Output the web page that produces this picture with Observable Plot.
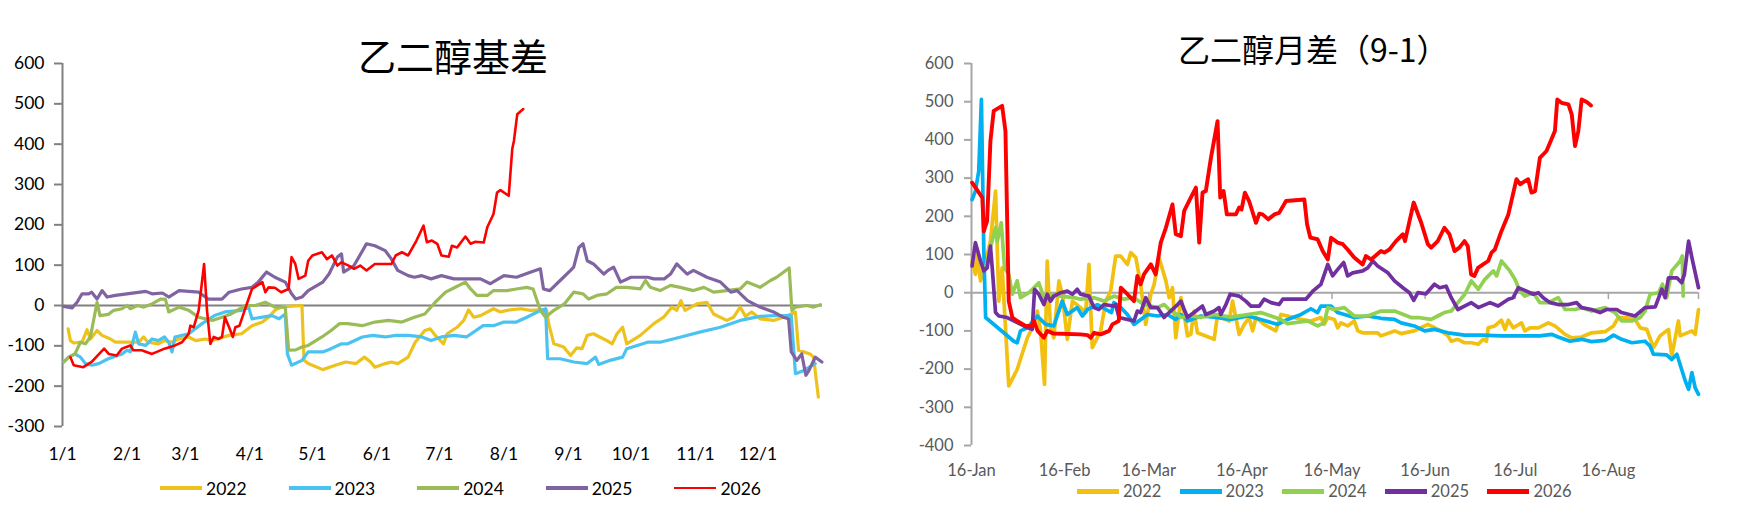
<!DOCTYPE html>
<html><head><meta charset="utf-8">
<script src="https://cdn.jsdelivr.net/npm/d3@7"></script>
<script src="https://cdn.jsdelivr.net/npm/@observablehq/plot@0.6"></script>
<style>
body{margin:0;background:#fff;}
#wrap{position:relative;width:1757px;height:520px;overflow:hidden;background:#fff;font-family:Lato,sans-serif;}
#wrap svg{position:absolute;top:0;}
.title{position:absolute;font-family:"Noto Sans CJK SC",sans-serif;white-space:nowrap;color:#000;line-height:1;}
.leg{position:absolute;display:flex;align-items:center;white-space:nowrap;font-family:Lato,sans-serif;}
.leg span.sw{display:inline-block;margin-right:4px;}
</style></head>
<body><div id="wrap">
<div class="title" id="t1" style="left:358px;top:36px;font-size:38px;">乙二醇基差</div>
<div class="title" id="t2" style="left:1178px;top:32px;font-size:32px;">乙二醇月差（9-1）</div>
</div>
<script>
// ---------- shared ----------
const years = ["2022", "2023", "2024", "2025", "2026"];

// ---------- left chart: 乙二醇基差 (x = day of year, y = basis) ----------
const leftMonthTicks = [0, 31, 59, 90, 120, 151, 181, 212, 243, 273, 304, 334];
const leftMonthLabels = ["1/1", "2/1", "3/1", "4/1", "5/1", "6/1", "7/1", "8/1", "9/1", "10/1", "11/1", "12/1"];
const leftYTicks = [-300, -200, -100, 0, 100, 200, 300, 400, 500, 600];

const basis2022 = [[2.7,-58],[3.8,-87],[5.4,-93],[9.4,-91],[11.8,-60],[13.4,-83],[16.6,-62],[19,-74],[23,-83],[25.4,-91],[36.6,-91],[39,-78],[41,-91],[46,-95],[49,-87],[52.6,-91],[55.8,-83],[60.6,-78],[64,-87],[68.6,-83],[71.8,-87],[80,-74],[86,-70],[91,-50],[96,-41],[99,-29],[102,-12],[105,-4],[108.6,-2],[115,0],[116,-136],[118,-144],[125,-159],[131,-148],[136,-140],[141,-144],[145,-128],[148,-140],[150,-153],[155,-144],[158,-140],[161,-144],[166,-128],[169.4,-91],[174,-62],[176.6,-58],[179,-74],[183,-95],[184.7,-70],[189.5,-54],[192.7,-37],[195,-11],[197.5,-29],[200.7,-25],[207,-8],[210.3,-16],[213.5,-12],[220,-8],[224.7,-12],[229.5,-11],[232.5,-11],[233.5,-45],[236,-95],[240.7,-103],[244,-124],[247,-105],[249.5,-107],[252,-74],[255,-70],[258,-78],[261.5,-87],[264,-95],[266.3,-70],[269,-54],[271,-95],[277.5,-74],[284,-45],[288.7,-29],[292.7,-4],[295,-12],[297,12],[299,-12],[304.7,4],[309.5,8],[312.7,-21],[319,-37],[322.3,-29],[325.5,-4],[328,-27],[331,-16],[335,-33],[341.5,-37],[346.3,-29],[352,-16],[353.5,-111],[356,-115],[359,-120],[360.7,-128],[363,-227]];
const basis2023 = [[0.6,-140],[3,-128],[6,-120],[8.6,-128],[11,-144],[14,-148],[17.4,-144],[22,-132],[28.6,-120],[31,-111],[32.6,-115],[35,-66],[36.6,-95],[40,-99],[43,-83],[46,-87],[49,-78],[51,-91],[52.6,-115],[54,-78],[60.6,-70],[67,-45],[73,-25],[78,-16],[86,-12],[89.4,-4],[91,-33],[96,-29],[100.6,-25],[104,-33],[107,-21],[108,-120],[110,-148],[115,-136],[118,-115],[125,-115],[129,-107],[134,-95],[137,-95],[144,-78],[149,-74],[155,-78],[160,-74],[166,-74],[172.6,-78],[177,-87],[182,-78],[188,-74],[194,-78],[202,-50],[207,-50],[212,-41],[218,-41],[223,-29],[228,-16],[232,-8],[233,-132],[239,-132],[245.5,-140],[252,-144],[256,-128],[257.5,-146],[263,-136],[269,-128],[271,-107],[281,-91],[287,-91],[297,-78],[306,-66],[316,-54],[325.5,-37],[335,-27],[341.5,-25],[350,-25],[352,-169],[356,-161],[361.5,-144]];
const basis2024 = [[0.6,-140],[3,-128],[6,-120],[8.6,-91],[11,-95],[13.4,-78],[16.6,8],[18,-25],[22,-22],[24.6,-12],[28.6,-8],[31,0],[32.6,-8],[36,0],[39,-4],[43,4],[47,16],[49.4,16],[51,-16],[56,-4],[60.6,-12],[65.4,-29],[72,-37],[76.6,-29],[81,-21],[88,0],[92.6,0],[97.4,8],[102,-4],[107,-4],[108.6,-111],[112,-110],[115,-103],[118,-99],[124.6,-78],[129,-62],[133,-45],[137,-45],[144,-50],[150,-41],[156.6,-37],[163,-41],[169,-29],[174,-21],[179,8],[184,33],[187,41],[193.5,58],[196,41],[199,25],[204,25],[207,37],[213.5,37],[218,41],[223,45],[226,41],[229.5,-12],[232,-29],[236,-12],[241,4],[245.5,33],[250,29],[252.7,16],[256.7,25],[261.5,29],[266,45],[271,45],[277.5,41],[280,62],[282.3,45],[287,37],[292,50],[296.7,45],[303,37],[308,45],[312.7,33],[319,37],[325.5,41],[328.7,58],[335,45],[340,62],[343,70],[349,93],[350.3,-12],[352,-4],[357.5,0],[360.7,-4],[364,2]];
const basis2025 = [[0.6,-2],[4.6,-6],[7,8],[9.4,29],[12.6,29],[14,33],[16.6,16],[19,37],[21.4,21],[25.4,25],[40,35],[43,29],[48,31],[51,21],[56,37],[60.6,35],[65.4,33],[70,16],[76.6,16],[80,33],[86,41],[91,45],[94,58],[98,83],[102,70],[107,58],[110,29],[112,16],[115,21],[118,37],[125,58],[128,78],[132,120],[134,128],[135,83],[140,99],[146,153],[150,148],[155,136],[158,115],[161,87],[166,74],[169,70],[172.6,74],[177,66],[182,74],[188,66],[194,66],[200.7,66],[205.5,54],[212,74],[218,70],[225,83],[229.5,91],[231,41],[234,37],[239,62],[244,87],[245.5,95],[248,144],[250,153],[252,111],[255,103],[260,78],[262,87],[264.7,95],[268,58],[273,70],[281,70],[284,66],[289,66],[292,78],[295,103],[300,78],[303,87],[309.5,70],[316,58],[321,33],[324,37],[329,12],[335,-4],[341.5,-16],[346,-29],[348.7,-33],[350,-115],[352.7,-136],[355,-120],[357,-173],[358.5,-161],[361.5,-128],[364.7,-140]];
const basis2026 = [[3.8,-128],[5.4,-148],[10,-153],[14,-140],[20,-107],[22.2,-120],[26,-124],[28.6,-107],[32.6,-99],[34,-111],[38,-111],[43,-120],[49,-107],[54,-99],[57.4,-91],[60.6,-70],[61.4,-50],[63,-54],[65.4,-12],[68,103],[69.4,-12],[71,-95],[72.6,-78],[75,-83],[76.6,-78],[78,-29],[80,-54],[81.8,-78],[83,-54],[85,-50],[88,-4],[91,41],[96,58],[97.4,33],[99,45],[102,44],[105,33],[108.6,41],[110,120],[111.8,103],[113.4,66],[116.6,74],[118,111],[120,124],[124.6,132],[127,115],[129.4,124],[132,99],[134,107],[137.4,99],[140,91],[143,99],[146,87],[150,103],[158,103],[160,124],[163,132],[166,124],[170,161],[173.4,198],[175,157],[177.4,161],[180,153],[182,124],[185.5,121],[187,148],[189.5,144],[193.5,171],[196,153],[198.3,158],[202.3,156],[204,194],[207,227],[208.7,280],[210.3,286],[214.3,272],[216,388],[216.8,408],[218.4,474],[221.3,487]];

// ---------- right chart: 乙二醇月差（9-1） (x = days since 16-Jan) ----------
const rightTicks = [0, 31, 59, 90, 120, 151, 181, 212];
const rightLabels = ["16-Jan", "16-Feb", "16-Mar", "16-Apr", "16-May", "16-Jun", "16-Jul", "16-Aug"];
const rightYTicks = [-400, -300, -200, -100, 0, 100, 200, 300, 400, 500, 600];

const spread2022 = [[0.2,83],[1.3,48],[1.9,100],[3,31],[4.1,65],[6.3,135],[8,266],[9.1,-22],[10.2,65],[12.4,-244],[15.2,-201],[18.6,-118],[20.8,-83],[21.9,-48],[23,-100],[24.3,-240],[25.2,83],[26.3,-92],[27.4,-118],[29.1,31],[30.2,-4],[31.9,-122],[33.6,-22],[36.3,-39],[38,-52],[39.1,74],[40.2,-144],[43,-100],[44.7,-22],[46.3,4],[48,96],[49.7,96],[51.9,74],[53,105],[54.7,92],[56.3,22],[58,-83],[59.7,-4],[60.8,22],[62.4,92],[64.7,31],[65.8,-13],[66.9,13],[68,-118],[69.7,-13],[70.8,-57],[71.9,-113],[73,-109],[74.1,-48],[75.2,-105],[80.8,-122],[81.9,-57],[83,-65],[85.8,-74],[86.9,-22],[89.1,-109],[90.8,-83],[92.4,-65],[93.6,-100],[94.7,-65],[97.4,-83],[101.3,-100],[103,-57],[107.4,-65],[109.7,-70],[113,-74],[116.3,-65],[117.4,-83],[118.6,-65],[120.8,-70],[121.9,-92],[123,-79],[125.2,-87],[127.4,-74],[128.6,-100],[130.2,-105],[135.2,-105],[136.3,-113],[140.8,-100],[143,-107],[147.4,-100],[151.9,-83],[156.3,-100],[158.6,-113],[159.7,-127],[161.9,-122],[164.1,-131],[166.4,-131],[168.7,-135],[170.3,-122],[171.4,-127],[172,-92],[174.2,-87],[176.4,-72],[177.6,-96],[178.7,-72],[180.3,-92],[183.1,-79],[184.2,-100],[185.9,-92],[188.7,-92],[192,-79],[194.2,-87],[197.6,-109],[199.8,-118],[203.1,-116],[206.4,-105],[210.9,-102],[213.7,-87],[215.3,-65],[217.6,-65],[220.9,-70],[222.6,-92],[224.8,-96],[227,-144],[229.2,-113],[232,-96],[233.1,-166],[235.3,-74],[235.9,-113],[239.8,-100],[240.9,-109],[242,-44]];
const spread2023 = [[0.2,244],[1.3,266],[2.4,318],[3.3,506],[4.1,109],[4.7,-65],[14.1,-127],[15.2,-131],[16.3,-100],[18.6,-92],[21.9,-61],[24.7,-83],[27.4,-87],[30.2,-22],[31.9,-57],[35.2,-39],[36.9,-61],[38.6,-44],[41.9,-31],[46.6,-52],[47.4,-26],[49.7,-39],[51.9,-57],[54.1,-83],[58.6,-57],[61.9,-61],[65.2,-57],[68,-70],[69.7,-57],[71.9,-74],[76.3,-61],[80.8,-64],[86.3,-70],[91.9,-61],[96.3,-70],[101.9,-83],[105.2,-70],[109.7,-57],[113,-42],[115.2,-52],[116.3,-35],[119.7,-35],[121.9,-52],[127.4,-65],[131.9,-61],[136.3,-67],[140.8,-70],[143,-79],[147.4,-87],[150.8,-100],[154.1,-96],[158.6,-105],[164.1,-111],[169.7,-111],[176.4,-113],[184.2,-113],[189.2,-113],[193.1,-109],[195.3,-116],[199.2,-127],[203.1,-122],[206.4,-128],[210.9,-125],[213.7,-111],[216.4,-122],[219.8,-131],[224.2,-127],[225.9,-140],[227,-161],[231.4,-163],[233.1,-175],[234.8,-161],[237.6,-231],[238.7,-253],[239.8,-209],[240.9,-249],[242,-266]];
const spread2024 = [[4.7,65],[6.3,118],[8,170],[8.6,135],[9.9,183],[11,65],[12.4,48],[13.6,-4],[15.2,31],[16.3,-13],[19.1,0],[22.4,26],[24.1,-13],[26.3,-4],[29.7,-9],[34.1,-13],[36.3,-17],[40.8,-13],[44.1,-22],[47.4,-9],[50.8,-17],[54.1,-13],[57.4,-31],[61.9,-39],[64.1,-31],[66.3,-48],[68.6,-57],[69.7,-65],[73,-61],[76.3,-65],[80.8,-57],[86.3,-64],[91.9,-57],[96.3,-52],[99.7,-61],[103,-70],[105.2,-81],[111.9,-74],[115.2,-87],[117.4,-79],[118.6,-39],[120.8,-44],[124.1,-39],[127.4,-61],[131.9,-61],[136.3,-48],[140.8,-48],[146.3,-65],[148.6,-65],[153,-70],[155.2,-61],[157.4,-52],[159.7,-48],[161.9,-26],[164.2,-4],[166.4,31],[168.7,9],[170.9,35],[173.7,57],[174.8,44],[176.4,83],[179.2,57],[180.9,35],[182.6,4],[184.2,-9],[187,0],[189.2,-26],[192,-26],[195.3,-13],[197.6,-44],[200.9,-44],[203.1,-39],[206.4,-48],[210.9,-39],[214.2,-52],[216.4,-74],[219.8,-74],[222.6,-65],[224.2,-48],[225.9,-4],[228.7,0],[230,22],[231.4,-13],[233.1,57],[235.9,83],[236.6,96],[236.9,-9]];
const spread2025 = [[0.2,70],[1.3,131],[3,83],[4.1,57],[5.2,65],[6.3,122],[6.9,65],[8,-52],[9.1,-61],[11.9,-65],[14.1,-74],[17.4,-87],[20.2,-96],[21,9],[22.4,-4],[24.1,-31],[25.2,-4],[26.3,-22],[27.4,-9],[29.7,0],[31.9,4],[33.6,-4],[35.2,9],[36.3,-4],[39.1,-9],[40.8,-39],[42.4,-44],[44.1,-31],[47.4,-35],[48,-31],[49.1,-65],[51.9,-70],[54.1,-74],[55.2,-48],[56.3,-52],[58,-13],[59.7,-39],[61.9,-39],[64.1,-65],[66.3,-48],[68.6,-31],[69.7,-22],[70.8,-44],[71.9,-65],[74.7,-48],[76.9,-35],[78,-57],[80.8,-48],[82.4,-39],[83,-57],[84.7,-31],[86.1,-4],[89.1,-9],[91.3,-22],[93,-35],[95.8,-35],[97.4,-17],[99.7,-26],[102.4,-31],[103.6,-17],[111.3,-17],[113.6,4],[116.3,22],[118.6,74],[120.2,44],[121.9,61],[123.9,79],[125.2,44],[126.9,52],[130.2,57],[131.9,65],[133.6,83],[135.2,70],[138.6,52],[140.8,31],[143.6,13],[145.8,0],[147.2,-20],[148.6,0],[151.3,-3],[154.1,22],[155.8,13],[158,17],[159.7,-13],[161.9,-44],[164.1,-35],[166.4,-26],[168.7,-39],[172.6,-26],[175.3,-35],[178.7,-17],[180.3,-13],[182,13],[184.2,6],[187,-4],[188.7,0],[190.3,-13],[192.6,-26],[195.3,-31],[198.7,-31],[201.4,-26],[203.1,-39],[206.4,-44],[209.2,-52],[211.4,-44],[214.8,-44],[216.4,-52],[220.9,-61],[224.2,-39],[227.6,-37],[229.8,9],[230.9,-13],[232,39],[234.8,39],[236.4,26],[237.3,48],[238.7,135],[239.8,92],[242,13]];
const spread2026 = [[0.2,288],[3.6,249],[4.1,161],[5.2,188],[6.3,397],[7.4,476],[10.2,489],[11.3,423],[12.4,-22],[13.6,-65],[15.2,-74],[18,-87],[20.2,-87],[20.8,-74],[22,-100],[24.1,-118],[25.2,-100],[27.4,-107],[36.3,-109],[38.6,-111],[39.7,-118],[40.8,-105],[43,-109],[45.8,-100],[46.9,-83],[49,-74],[49.7,13],[51.9,-4],[54.1,-22],[55.2,44],[56.3,22],[57.4,48],[59.7,74],[61.3,48],[63,131],[64.7,170],[66.9,231],[68,153],[69.7,148],[70.8,214],[73,249],[74.7,275],[75.8,131],[76.9,262],[78,266],[79.7,353],[81.9,449],[82.8,249],[83.9,266],[85,205],[88,205],[89.1,223],[89.9,218],[91,262],[92.4,240],[94.7,183],[95.8,207],[96.9,205],[98.8,192],[100.8,205],[102.4,209],[104.7,240],[110.8,244],[111.7,179],[112.8,144],[115.2,140],[116.9,109],[118.6,87],[119.7,144],[121.9,131],[123.6,127],[125.2,113],[127.4,92],[130.2,74],[131.3,96],[133,87],[136.3,109],[137.4,105],[139.1,113],[141.3,135],[143.6,153],[144.3,135],[147.2,236],[149.7,183],[151.9,127],[153,118],[155.2,135],[157.4,170],[159.1,153],[160.8,109],[162.4,118],[164.1,135],[165.2,122],[166.3,48],[167.4,44],[168.6,65],[170.3,74],[172,83],[173.1,105],[174.2,113],[176.4,161],[178.7,205],[181.4,297],[182.6,284],[185.3,297],[186.4,262],[187.6,266],[189.2,353],[191.4,371],[192.6,393],[194.2,423],[195,506],[196.4,497],[198.7,493],[199.8,467],[200.9,384],[202,423],[203.1,506],[204.8,499],[206.2,490]];

const leftSeries = [basis2022, basis2023, basis2024, basis2025, basis2026];
const rightSeries = [spread2022, spread2023, spread2024, spread2025, spread2026];
const leftColors = ["#EEC21C", "#4BC3F0", "#9BBB59", "#8064A2", "#FF0000"];
const rightColors = ["#F2C010", "#00B0F0", "#92D050", "#7030A0", "#FF0000"];
const leftWidths = [3.2, 3.2, 3.2, 3.2, 2.6];
const rightWidths = [3.7, 3.7, 3.7, 3.7, 3.9];

const wrap = document.getElementById("wrap");

// ---------- left plot ----------
const leftPlot = Plot.plot({
  width: 880, height: 470,
  marginLeft: 62, marginRight: 58, marginTop: 63, marginBottom: 44,
  x: {domain: [0, 365]},
  y: {domain: [-300, 600]},
  style: {fontFamily: "Lato, sans-serif", fontSize: "17.5px", background: "transparent", overflow: "visible", color: "#000"},
  marks: [
    Plot.ruleY([0], {stroke: "#808080", strokeWidth: 2}),
    Plot.ruleX([0], {stroke: "#808080", strokeWidth: 2}),
    Plot.axisY({ticks: leftYTicks, tickSize: 8, tickPadding: 10, tickFormat: d => String(d), stroke: "#808080", strokeWidth: 2, fill: "#000", label: null}),
    Plot.axisX({ticks: leftMonthTicks, tickSize: 0, tickPadding: 21, tickFormat: d => leftMonthLabels[leftMonthTicks.indexOf(d)], fill: "#000", label: null}),
    ...years.map((y, i) => Plot.line(leftSeries[i], {x: d => d[0], y: d => d[1], stroke: leftColors[i], strokeWidth: leftWidths[i], strokeLinejoin: "round", strokeLinecap: "round"}))
  ]
});
leftPlot.style.left = "0px";
wrap.appendChild(leftPlot);

// ---------- right plot ----------
const rightPlot = Plot.plot({
  width: 877, height: 485,
  marginLeft: 91, marginRight: 59, marginTop: 63, marginBottom: 40,
  x: {domain: [0, 242]},
  y: {domain: [-400, 600]},
  style: {fontFamily: "Lato, sans-serif", fontSize: "16.5px", background: "transparent", overflow: "visible", color: "#595959"},
  marks: [
    Plot.ruleY([0], {stroke: "#A6A6A6", strokeWidth: 2}),
    Plot.ruleX([0], {stroke: "#A6A6A6", strokeWidth: 2}),
    Plot.ruleX(rightTicks.concat([242]), {x: d => d, y1: 0, y2: -18, stroke: "#A6A6A6", strokeWidth: 1.5}),
    Plot.axisY({ticks: rightYTicks, tickSize: 7, tickPadding: 11, tickFormat: d => String(d), stroke: "#A6A6A6", strokeWidth: 2, fill: "#595959", label: null}),
    Plot.axisX({ticks: rightTicks, tickSize: 0, tickPadding: 19, tickFormat: d => rightLabels[rightTicks.indexOf(d)], fill: "#595959", label: null}),
    ...years.map((y, i) => Plot.line(rightSeries[i], {x: d => d[0], y: d => d[1], stroke: rightColors[i], strokeWidth: rightWidths[i], strokeLinejoin: "round", strokeLinecap: "round"}))
  ]
});
rightPlot.style.left = "880px";
wrap.appendChild(rightPlot);

// ---------- legends ----------
function legend(startX, step, cy, colors, swH, fontSize, color) {
  years.forEach((y, i) => {
    const item = document.createElement("div");
    item.className = "leg";
    item.style.left = (startX + i * step) + "px";
    item.style.top = (cy - 12) + "px";
    item.style.height = "24px";
    item.style.fontSize = fontSize + "px";
    item.style.color = color;
    const sw = document.createElement("span");
    sw.className = "sw";
    sw.style.width = "42px";
    sw.style.height = swH[i] + "px";
    sw.style.background = colors[i];
    item.appendChild(sw);
    item.appendChild(document.createTextNode(y));
    wrap.appendChild(item);
  });
}
legend(160, 128.6, 488, leftColors, [4, 4, 4, 4, 2.5], 17.5, "#000");
legend(1077, 102.6, 491, rightColors, [5, 5, 5, 5, 5], 16.5, "#595959");
</script>
</body></html>
